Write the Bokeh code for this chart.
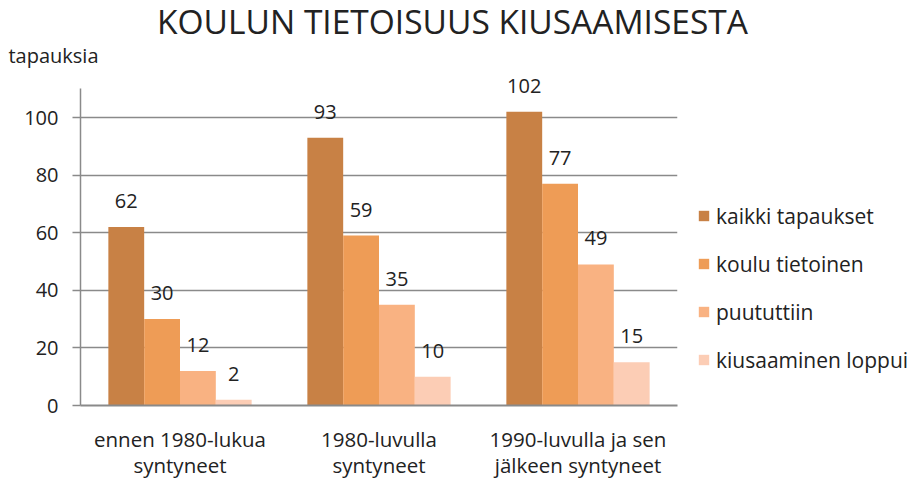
from bokeh.plotting import figure
from bokeh.models import ColumnDataSource, Legend, LegendItem, FactorRange, Range1d, LinearAxis, FixedTicker
from bokeh.layouts import column
from bokeh.transform import dodge
from bokeh.core.properties import value
from bokeh.embed import file_html
from bokeh.resources import INLINE

categories = ["ennen 1980-lukua\nsyntyneet", "1980-luvulla\nsyntyneet", "1990-luvulla ja sen\njälkeen syntyneet"]
series_names = ["kaikki tapaukset", "koulu tietoinen", "puututtiin", "kiusaaminen loppui"]
kaikki = [62, 93, 102]
koulu = [30, 59, 77]
puututtiin = [12, 35, 49]
loppui = [2, 10, 15]
y_ticks = [0, 20, 40, 60, 80, 100]
title_text = "KOULUN TIETOISUUS KIUSAAMISESTA"
y_label_text = "tapauksia"

colors = ["#C88145", "#EE9C56", "#F9B282", "#FCCDB5"]
FONT = "Open Sans"
TXT = "#222222"
GRID = "#8A8A8A"
LEFT = 80

# ---- header (title + y-axis caption) ----
HEAD_H = 72
CAP_Y = 17
head = figure(frame_width=910 - LEFT, frame_height=HEAD_H, x_range=Range1d(LEFT, 910), y_range=Range1d(0, HEAD_H),
              x_axis_type=None, y_axis_type=None, output_backend="svg", toolbar_location=None,
              min_border_left=LEFT, min_border_right=0, min_border_top=0, min_border_bottom=0)
head.outline_line_color = None
head.grid.grid_line_color = None
head.text(x=[452], y=[HEAD_H - 20], text=[title_text], text_align="center", text_baseline="middle",
          text_font=value(FONT), text_font_size="33.5px", text_color=TXT)
cap_axis = LinearAxis(ticker=FixedTicker(ticks=[CAP_Y]),
                      major_label_overrides={CAP_Y: y_label_text},
                      axis_line_color=None, major_tick_line_color=None, minor_tick_line_color=None,
                      major_tick_in=0, major_tick_out=0, major_label_standoff=-18,
                      major_label_text_font=FONT, major_label_text_font_size="20px",
                      major_label_text_color=TXT)
head.add_layout(cap_axis, "left")

# ---- main chart ----
src = ColumnDataSource(dict(cat=categories, s0=kaikki, s1=koulu, s2=puututtiin, s3=loppui,
                            l0=[str(v) for v in kaikki], l1=[str(v) for v in koulu],
                            l2=[str(v) for v in puututtiin], l3=[str(v) for v in loppui]))

FRAME_H = 333
p = figure(frame_width=597, frame_height=FRAME_H, x_range=FactorRange(*categories, range_padding=0),
           y_range=(0, FRAME_H / 2.88), output_backend="svg", toolbar_location=None,
           min_border_left=LEFT, min_border_right=233, min_border_top=0, min_border_bottom=73)
p.outline_line_color = None
p.xgrid.grid_line_color = None
p.ygrid.grid_line_color = GRID
p.ygrid.grid_line_width = 1.5
p.ygrid.ticker = y_ticks

offsets = [-0.27, -0.09, 0.09, 0.27]
renderers = []
for i in range(4):
    r = p.vbar(x=dodge("cat", offsets[i], range=p.x_range), top="s%d" % i, width=0.18,
               source=src, fill_color=colors[i], line_color=None)
    renderers.append(r)
    p.text(x=dodge("cat", offsets[i], range=p.x_range), y="s%d" % i, text="l%d" % i, source=src,
           text_align="center", text_baseline="middle", y_offset=-26,
           text_font=value(FONT), text_font_size="20px", text_color=TXT)

p.yaxis.ticker = y_ticks
p.yaxis.bounds = (0, 110)
p.yaxis.axis_line_color = GRID
p.yaxis.axis_line_width = 1.5
p.yaxis.major_tick_line_color = GRID
p.yaxis.major_tick_line_width = 1.5
p.yaxis.major_tick_out = 8
p.yaxis.major_tick_in = 0
p.yaxis.minor_tick_line_color = None
p.yaxis.major_label_standoff = 14
p.yaxis.major_label_text_font = FONT
p.yaxis.major_label_text_font_size = "20px"
p.yaxis.major_label_text_color = TXT

p.xaxis.axis_line_color = GRID
p.xaxis.axis_line_width = 2
p.xaxis.major_tick_line_color = None
p.xaxis.major_tick_out = 0
p.xaxis.major_tick_in = 0
p.xaxis.major_label_standoff = 19
p.xaxis.major_label_text_font = FONT
p.xaxis.major_label_text_font_size = "20.5px"
p.xaxis.major_label_text_color = TXT
p.xaxis.major_label_text_line_height = 0.94

legend = Legend(items=[LegendItem(label=series_names[i], renderers=[renderers[i]]) for i in range(4)],
                location=(20, 31), glyph_width=13, glyph_height=13, label_height=29,
                spacing=19, label_standoff=6, padding=0, margin=0,
                border_line_color=None, background_fill_alpha=0,
                label_text_font=FONT, label_text_font_size="21px", label_text_color=TXT)
p.add_layout(legend, "right")

layout = column(head, p, spacing=0)
open("out.html", "w").write(file_html(layout, INLINE))
